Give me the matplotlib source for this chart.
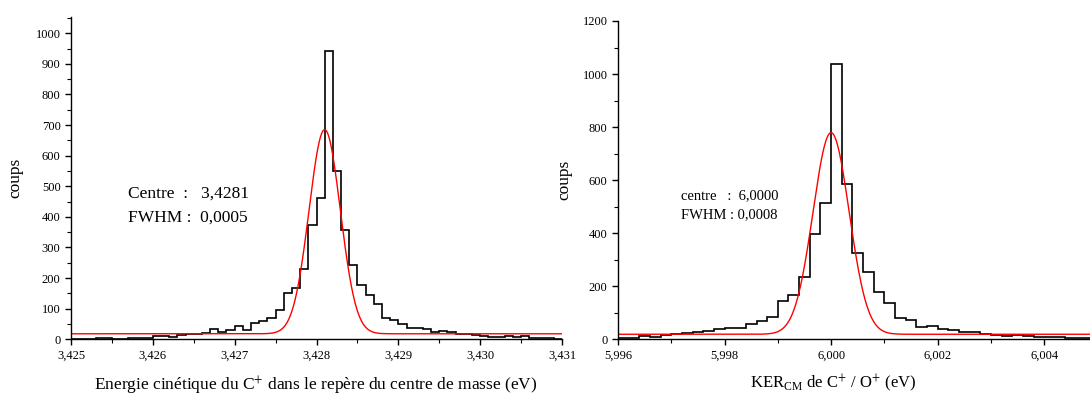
import numpy as np
import matplotlib
matplotlib.use("Agg")
import matplotlib.pyplot as plt
from matplotlib.ticker import MultipleLocator, FuncFormatter

plt.rcParams['font.family'] = ['Liberation Serif', 'DejaVu Serif']
plt.rcParams['mathtext.fontset'] = 'stix'

# ---- Left panel data: C+ kinetic energy histogram ----
left_bin_start = 3.4250
left_bin_width = 0.0001
left_counts = [0, 2, 2, 3, 3, 1, 2, 3, 3, 5,
               10, 10, 7, 14, 17, 17, 20, 33, 24, 30,
               45, 29, 54, 60, 68, 96, 150, 167, 230, 373,
               462, 941, 549, 357, 242, 177, 145, 114, 68, 63,
               50, 38, 38, 35, 23, 28, 23, 16, 16, 13,
               11, 9, 9, 10, 9, 11, 5, 3, 4, 2]
left_fit_center = 3.4281
left_fit_fwhm = 0.00045
left_fit_amp = 667
left_fit_base = 18
left_xticks = [3.425, 3.426, 3.427, 3.428, 3.429, 3.430, 3.431]
left_yticks = [0, 100, 200, 300, 400, 500, 600, 700, 800, 900, 1000]
left_notes = ['Centre  :   3,4281', 'FWHM :  0,0005']

# ---- Right panel data: KER_CM of C+/O+ ----
right_bin_start = 5.9960
right_bin_width = 0.0002
right_counts = [5, 5, 13, 9, 18, 20, 24, 27, 32, 37,
                44, 42, 59, 70, 85, 143, 168, 236, 396, 515,
                1037, 585, 326, 252, 178, 135, 82, 73, 48, 51,
                38, 35, 28, 28, 20, 18, 11, 15, 11, 10,
                9, 9, 5, 4, 4]
right_fit_center = 6.0000
right_fit_fwhm = 0.0008
right_fit_amp = 760
right_fit_base = 19
right_xticks = [5.996, 5.998, 6.000, 6.002, 6.004]
right_yticks = [0, 200, 400, 600, 800, 1000, 1200]
right_notes = ['centre   :  6,0000', 'FWHM : 0,0008']

W, H = 1090, 396


def gauss(x, c, fwhm, a, b):
    s = fwhm / (2 * np.sqrt(2 * np.log(2)))
    return b + a * np.exp(-0.5 * ((x - c) / s) ** 2)


def comma_fmt(nd):
    return FuncFormatter(lambda v, p: f"{v:.{nd}f}".replace('.', ','))


def draw_hist(ax, start, width, counts):
    counts = np.asarray(counts, float)
    edges = start + width * np.arange(len(counts) + 1)
    ax.stairs(counts, edges, color='black', lw=1.2, baseline=None)


fig = plt.figure(figsize=(W / 100, H / 100), dpi=100)

# Left axes
axL = fig.add_axes([71 / W, 1 - 339.3 / H, 491 / W, 322.3 / H])
draw_hist(axL, left_bin_start, left_bin_width, left_counts)
xx = np.linspace(3.425, 3.431, 2000)
axL.plot(xx, gauss(xx, left_fit_center, left_fit_fwhm, left_fit_amp, left_fit_base),
         color='red', lw=1.0)
axL.set_xlim(3.425, 3.431)
axL.set_ylim(0, 1053)
axL.set_xticks(left_xticks)
axL.set_yticks(left_yticks)
axL.xaxis.set_minor_locator(MultipleLocator(0.0005))
axL.yaxis.set_minor_locator(MultipleLocator(50))
axL.xaxis.set_major_formatter(comma_fmt(3))
axL.set_ylabel('coups', fontsize=12.5)
axL.yaxis.set_label_coords(-(71 - 23) / 491, 0.5)
axL.set_xlabel('Energie cinétique du C$^{+}$ dans le repère du centre de masse (eV)',
               fontsize=12.5)
axL.xaxis.label.set_va('baseline')
axL.xaxis.set_label_coords((316 - 71) / 491, -(390 - 339.3) / 322.3)
fig.text(128 / W, 1 - 198 / H, left_notes[0], fontsize=12.5, va='baseline')
fig.text(128 / W, 1 - 222 / H, left_notes[1], fontsize=12.5, va='baseline')

# Right axes
axR = fig.add_axes([618 / W, 1 - 339.3 / H, (W - 618) / W, 318.3 / H])
draw_hist(axR, right_bin_start, right_bin_width, right_counts)
xx2 = np.linspace(5.996, 6.0049, 2000)
axR.plot(xx2, gauss(xx2, right_fit_center, right_fit_fwhm, right_fit_amp, right_fit_base),
         color='red', lw=1.0)
axR.set_xlim(5.996, 6.00486)
axR.set_ylim(0, 1200)
axR.set_xticks(right_xticks)
axR.set_yticks(right_yticks)
axR.xaxis.set_minor_locator(MultipleLocator(0.001))
axR.yaxis.set_minor_locator(MultipleLocator(100))
axR.xaxis.set_major_formatter(comma_fmt(3))
axR.set_ylabel('coups', fontsize=12.5)
axR.yaxis.set_label_coords(-(618 - 572) / (W - 618), 0.5)
axR.set_xlabel('KER$_{\\mathregular{CM}}$ de C$^{+}$ / O$^{+}$ (eV)', fontsize=12)
axR.xaxis.label.set_va('baseline')
axR.xaxis.set_label_coords((833 - 618) / (W - 618), -(388 - 339.3) / 318.3)
fig.text(681 / W, 1 - 199 / H, right_notes[0], fontsize=10.5, va='baseline')
fig.text(681 / W, 1 - 218 / H, right_notes[1], fontsize=10.5, va='baseline')

for ax in (axL, axR):
    for s in ('top', 'right'):
        ax.spines[s].set_visible(False)
    for s in ('left', 'bottom'):
        ax.spines[s].set_linewidth(1.0)
    ax.tick_params(which='major', direction='out', length=4, width=1.0, labelsize=9)
    ax.tick_params(which='minor', direction='out', length=3, width=0.8)
    ax.patch.set_visible(False)

fig.savefig('out.png', dpi=100)
